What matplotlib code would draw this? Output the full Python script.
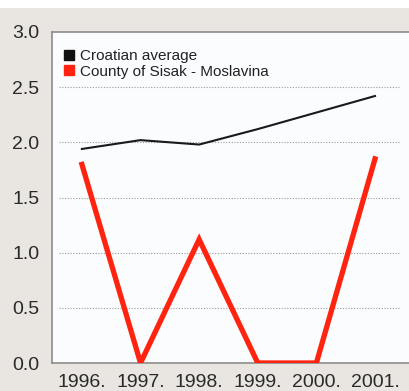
import matplotlib
matplotlib.use('Agg')

import matplotlib.pyplot as plt
from matplotlib.lines import Line2D
from matplotlib.patches import Rectangle

years = [1996, 1997, 1998, 1999, 2000, 2001]
year_labels = ['1996.', '1997.', '1998.', '1999.', '2000.', '2001.']
croatian_avg = [1.94, 2.02, 1.98, 2.12, 2.27, 2.42]
sisak_moslavina = [1.80, 0.0, 1.12, 0.0, 0.0, 1.85]
y_ticks = [0.0, 0.5, 1.0, 1.5, 2.0, 2.5, 3.0]

plt.rcParams['font.family'] = ['Liberation Sans', 'DejaVu Sans']

fig = plt.figure(figsize=(4.09, 3.91), dpi=100)
fig.patch.set_facecolor('#e9e6e1')
# thin white strip at the very top
fig.patches.append(Rectangle((0, 1 - 8 / 391), 1, 8 / 391, transform=fig.transFigure,
                             facecolor='white', edgecolor='none', zorder=0))

ax = fig.add_axes([52 / 409, 28 / 391, 1 - 52 / 409, (363 - 32) / 391])
ax.set_facecolor('#fbfcfe')

ax.plot(years, croatian_avg, color='#1a1a1a', linewidth=1.5, zorder=3)
ax.plot(years, sisak_moslavina, color='#ff2410', linewidth=3.8, zorder=4,
        solid_joinstyle='miter')

ax.set_xlim(1995.49, 2001.58)
ax.set_ylim(0, 3.0)
ax.set_yticks(y_ticks)
ax.set_yticklabels([f'{v:.1f}' for v in y_ticks])
ax.set_xticks(years)
ax.set_xticklabels(year_labels)

for v in y_ticks[1:-1]:
    ax.axhline(v, xmin=0.02, xmax=0.975, color='#9a9a9a', linewidth=0.8,
               linestyle=(0, (1, 1.5)), zorder=1)

for side in ['left', 'bottom', 'top']:
    ax.spines[side].set_color('#8c8c8c')
    ax.spines[side].set_linewidth(1.2)
ax.spines['right'].set_visible(False)

ax.tick_params(axis='both', length=0, labelsize=14, colors='#2a2a2a')
ax.tick_params(axis='y', pad=9)
ax.tick_params(axis='x', pad=8)

handles = [
    Line2D([], [], linestyle='none', marker='s', markersize=7, color='#111111'),
    Line2D([], [], linestyle='none', marker='s', markersize=7, color='#ff2410'),
]
ax.legend(handles, ['Croatian average', 'County of Sisak - Moslavina'],
          loc='upper left', bbox_to_anchor=(0.0, 0.985), frameon=False,
          fontsize=11, handlelength=0.6, handletextpad=0.4,
          labelspacing=0.1, borderaxespad=0.4, labelcolor='#222222')

fig.savefig('out.png', dpi=100, facecolor=fig.get_facecolor())
